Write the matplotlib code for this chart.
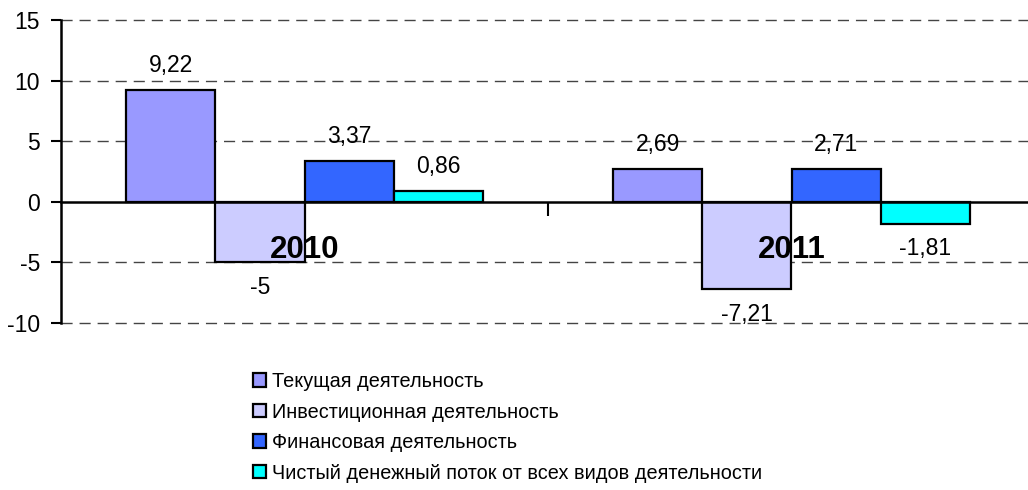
import matplotlib.pyplot as plt
import numpy as np
from matplotlib.patches import Patch

plt.rcParams['font.family'] = ['Liberation Sans', 'DejaVu Sans']

years = ["2010", "2011"]
series = ["Текущая деятельность",
          "Инвестиционная деятельность",
          "Финансовая деятельность",
          "Чистый денежный поток от всех видов деятельности"]
values = [
    [9.22, 2.69],
    [-5.0, -7.21],
    [3.37, 2.71],
    [0.86, -1.81],
]
labels = [
    ["9,22", "2,69"],
    ["-5", "-7,21"],
    ["3,37", "2,71"],
    ["0,86", "-1,81"],
]
colors = ["#9999FF", "#CCCCFF", "#3366FF", "#00FFFF"]

fig = plt.figure(figsize=(10.28, 4.9), dpi=100)
ax = fig.add_axes([61 / 1028, 167 / 490, 974 / 1028, 303 / 490])

x = np.arange(len(years))
bw = 0.183
offsets = (np.arange(4) - 1.5) * bw
for i in range(4):
    ax.bar(x + offsets[i], values[i], width=bw, color=colors[i],
           edgecolor="black", linewidth=1.6, zorder=3)
    for j, v in enumerate(values[i]):
        dy = 2.05 if v >= 0 else -2.05
        ax.text(x[j] + offsets[i], v + dy, labels[i][j], ha="center",
                va="center", fontsize=16.5, zorder=4)

ax.set_xlim(-0.5, 1.5)
ax.set_ylim(-10, 15)
ax.set_yticks([-10, -5, 0, 5, 10, 15])
ax.set_yticklabels(["-10", "-5", "0", "5", "10", "15"])
ax.tick_params(axis="y", direction="out", length=7, width=1.5, labelsize=16.5, pad=8)
ax.set_xticks([0.5])
ax.set_xticklabels([""])
ax.tick_params(axis="x", direction="out", length=10, width=1.5)

for yv in [-10, -5, 5, 10, 15]:
    ax.axhline(yv, color="#444444", linestyle=(0, (8, 5)), linewidth=1.0,
               zorder=1, clip_on=False)

ax.spines["top"].set_visible(False)
ax.spines["right"].set_visible(False)
ax.spines["left"].set_linewidth(1.8)
ax.spines["left"].set_zorder(5)
ax.spines["bottom"].set_position(("data", 0))
ax.spines["bottom"].set_linewidth(1.8)
ax.spines["bottom"].set_zorder(5)

for j, yr in enumerate(years):
    ax.text(x[j], -4.0, yr, ha="center", va="center", fontsize=22.5,
            fontweight="bold", zorder=6)

handles = [Patch(facecolor=c, edgecolor="black", linewidth=1.6) for c in colors]
fig.legend(handles, series, loc="upper left", bbox_to_anchor=(253 / 1028, 1 - 372 / 490),
           frameon=False, fontsize=14.3, handlelength=0.65, handleheight=0.65,
           handletextpad=0.3, labelspacing=0.58, borderaxespad=0, borderpad=0)

fig.savefig("out.png", dpi=100)
